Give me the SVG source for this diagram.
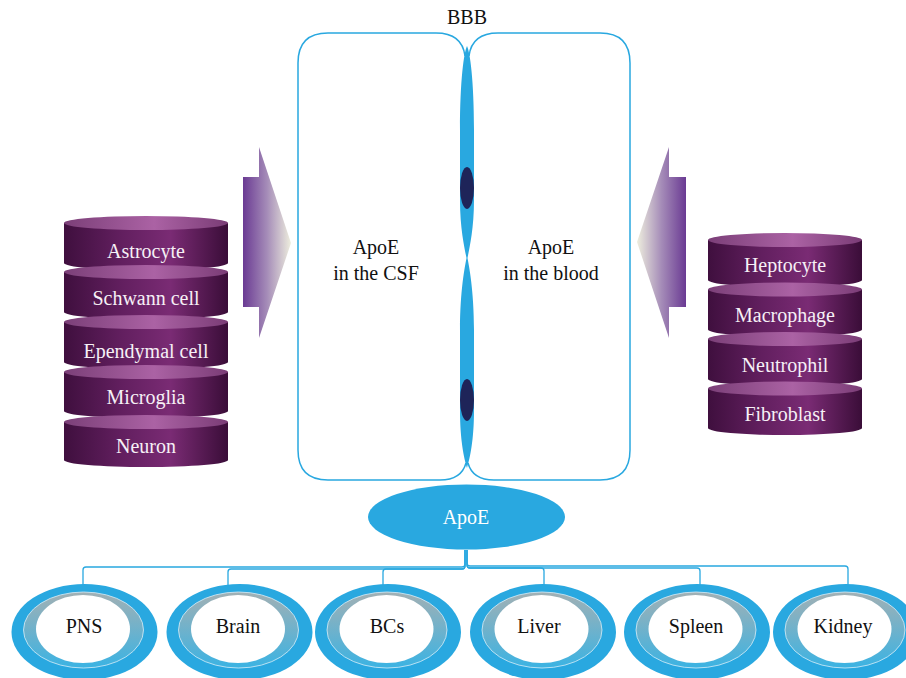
<svg xmlns="http://www.w3.org/2000/svg" width="906" height="678" viewBox="0 0 906 678">
  <defs>
    <linearGradient id="cylBody" x1="0" y1="0" x2="1" y2="0">
      <stop offset="0" stop-color="#3f0f3e"/>
      <stop offset="0.35" stop-color="#621f5f"/>
      <stop offset="0.65" stop-color="#7a2b74"/>
      <stop offset="1" stop-color="#3a0d38"/>
    </linearGradient>
    <linearGradient id="cylRim" x1="0" y1="0" x2="1" y2="0">
      <stop offset="0" stop-color="#7b3f78"/>
      <stop offset="0.55" stop-color="#ab62a4"/>
      <stop offset="1" stop-color="#7a3c76"/>
    </linearGradient>
    <linearGradient id="arrowRight" x1="0" y1="0" x2="1" y2="0">
      <stop offset="0" stop-color="#6a3a93"/>
      <stop offset="0.5" stop-color="#a58cb8"/>
      <stop offset="1" stop-color="#eeeede"/>
    </linearGradient>
    <linearGradient id="arrowLeft" x1="1" y1="0" x2="0" y2="0">
      <stop offset="0" stop-color="#6a3a93"/>
      <stop offset="0.5" stop-color="#a58cb8"/>
      <stop offset="1" stop-color="#eeeede"/>
    </linearGradient>
    <linearGradient id="ring" x1="0" y1="0" x2="0" y2="1">
      <stop offset="0" stop-color="#a2b0b4"/>
      <stop offset="1" stop-color="#3bb3e3"/>
    </linearGradient>
    <!-- organ node: blue disc, shaded ring, white face -->
    <g id="organ">
      <ellipse cx="0" cy="632" rx="73" ry="48" fill="#29a8e0"/>
      <ellipse cx="-1" cy="630" rx="60" ry="38" fill="url(#ring)" stroke="#d8eef8" stroke-width="0.8"/>
      <ellipse cx="-1.5" cy="629" rx="47" ry="34" fill="#ffffff"/>
    </g>
  </defs>
  <style>
    .serif { font-family: "Liberation Serif", "Times New Roman", serif; }
    .cell { font-size: 20px; fill: #f6f0f6; text-anchor: middle; }
    .label { font-size: 20px; fill: #111111; text-anchor: middle; }
    .apo { font-size: 20px; fill: #ffffff; text-anchor: middle; }
    .wall { fill: none; stroke: #29a8e0; stroke-width: 1.5; }
    .link { fill: none; stroke: #29a8e0; stroke-width: 1.3; }
    .body { fill: url(#cylBody); }
    .rim { fill: url(#cylRim); }
  </style>

  <rect width="906" height="678" fill="#ffffff"/>

  <!-- blood-brain barrier compartments -->
  <g id="bbb">
    <text class="serif label" x="467" y="24" font-size="18">BBB</text>
    <path class="wall" d="M465,56 C463,40 452,33 436,33 H328 Q298,33 298,63 V450 Q298,480 328,480 H440 C455,480 463,474 466,463"/>
    <path class="wall" d="M469,56 C471,40 482,33 498,33 H600 Q630,33 630,63 V450 Q630,480 600,480 H494 C479,480 471,474 468,463"/>
    <path fill="#29a8e0" d="M467,46 C470,52 474,80 474,130 L474,200 C474,230 469,250 467.5,258 C469,266 474,290 474,330 L474,410 C474,440 470,458 467,468 C464,458 460,440 460,410 L460,330 C460,290 465,266 466.5,258 C465,250 460,230 460,200 L460,130 C460,80 464,52 467,46Z"/>
    <ellipse cx="467" cy="188" rx="7" ry="21" fill="#1e2459"/>
    <ellipse cx="467" cy="400" rx="7" ry="21" fill="#1e2459"/>
    <text class="serif label" x="376" y="254">ApoE</text>
    <text class="serif label" x="376" y="280">in the CSF</text>
    <text class="serif label" x="551" y="254">ApoE</text>
    <text class="serif label" x="551" y="280">in the blood</text>
  </g>

  <!-- arrows into the compartments -->
  <g id="arrow-csf">
    <path fill="url(#arrowRight)" d="M243,177 H259 V147 L291,243 L259,338 V307 H243 Z"/>
  </g>
  <g id="arrow-blood">
    <path fill="url(#arrowLeft)" d="M686,177 H669 V147 L637,242 L669,338 V307 H686 Z"/>
  </g>

  <!-- CNS cell stack -->
  <g id="cns-cells">
    <path class="body" d="M64,223 V263 A82,7 0 0 0 228,263 V223 Z"/>
    <ellipse class="rim" cx="146" cy="223" rx="82" ry="7"/>
    <text class="serif cell" x="146" y="258">Astrocyte</text>
    <path class="body" d="M64,272 V312 A82,7 0 0 0 228,312 V272 Z"/>
    <ellipse class="rim" cx="146" cy="272" rx="82" ry="7"/>
    <text class="serif cell" x="146" y="305">Schwann cell</text>
    <path class="body" d="M64,322 V362 A82,7 0 0 0 228,362 V322 Z"/>
    <ellipse class="rim" cx="146" cy="322" rx="82" ry="7"/>
    <text class="serif cell" x="146" y="358">Ependymal cell</text>
    <path class="body" d="M64,372 V411 A82,7 0 0 0 228,411 V372 Z"/>
    <ellipse class="rim" cx="146" cy="372" rx="82" ry="7"/>
    <text class="serif cell" x="146" y="404">Microglia</text>
    <path class="body" d="M64,422 V460 A82,7 0 0 0 228,460 V422 Z"/>
    <ellipse class="rim" cx="146" cy="422" rx="82" ry="7"/>
    <text class="serif cell" x="146" y="453">Neuron</text>
  </g>

  <!-- peripheral cell stack -->
  <g id="peripheral-cells">
    <path class="body" d="M708,240 V280 A77,7 0 0 0 862,280 V240 Z"/>
    <ellipse class="rim" cx="785" cy="240" rx="77" ry="7"/>
    <text class="serif cell" x="785" y="272">Heptocyte</text>
    <path class="body" d="M708,289.5 V329.5 A77,7 0 0 0 862,329.5 V289.5 Z"/>
    <ellipse class="rim" cx="785" cy="289.5" rx="77" ry="7"/>
    <text class="serif cell" x="785" y="322">Macrophage</text>
    <path class="body" d="M708,339 V379 A77,7 0 0 0 862,379 V339 Z"/>
    <ellipse class="rim" cx="785" cy="339" rx="77" ry="7"/>
    <text class="serif cell" x="785" y="372">Neutrophil</text>
    <path class="body" d="M708,388.5 V428 A77,7 0 0 0 862,428 V388.5 Z"/>
    <ellipse class="rim" cx="785" cy="388.5" rx="77" ry="7"/>
    <text class="serif cell" x="785" y="421">Fibroblast</text>
  </g>

  <!-- connectors from ApoE to organs -->
  <g id="connectors">
    <path class="link" d="M465,550 V564 Q465,567 462,567 H86 Q83,567 83,570 V586"/>
    <path class="link" d="M465,550 V566 Q465,569 462,569 H231 Q228,569 228,572 V586"/>
    <path class="link" d="M465,550 V566 Q465,569 462,569 H386 Q383,569 383,572 V586"/>
    <path class="link" d="M467,550 V565 Q467,568 470,568 H541 Q544,568 544,571 V586"/>
    <path class="link" d="M467,550 V565 Q467,568 470,568 H697 Q700,568 700,571 V586"/>
    <path class="link" d="M467,550 V563 Q467,566 470,566 H845 Q848,566 848,569 V586"/>
  </g>

  <g id="apoe">
    <ellipse cx="466.5" cy="517" rx="98.5" ry="32.5" fill="#29a8e0"/>
    <text class="serif apo" x="466" y="524">ApoE</text>
  </g>

  <g id="pns">
    <use href="#organ" x="84.5"/>
    <text class="serif label" x="84" y="633">PNS</text>
  </g>
  <g id="brain">
    <use href="#organ" x="239.5"/>
    <text class="serif label" x="238" y="633">Brain</text>
  </g>
  <g id="bcs">
    <use href="#organ" x="388"/>
    <text class="serif label" x="387" y="633">BCs</text>
  </g>
  <g id="liver">
    <use href="#organ" x="543"/>
    <text class="serif label" x="539" y="633">Liver</text>
  </g>
  <g id="spleen">
    <use href="#organ" x="697"/>
    <text class="serif label" x="696" y="633">Spleen</text>
  </g>
  <g id="kidney">
    <use href="#organ" x="846"/>
    <text class="serif label" x="843" y="633">Kidney</text>
  </g>
</svg>
